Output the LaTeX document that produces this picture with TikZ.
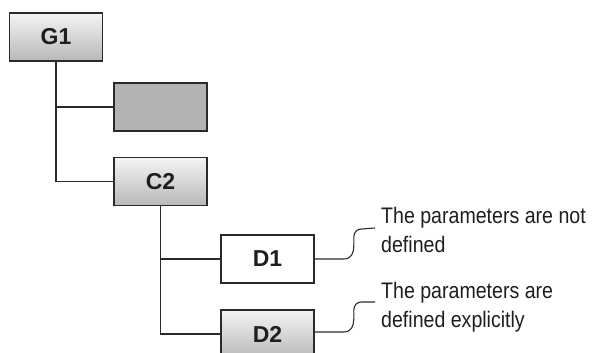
\documentclass[tikz,border=0pt]{standalone}
\usepackage{fontspec}
\newfontfamily\boxfont{Liberation Sans}
\newfontfamily\notefont[FakeStretch=0.87]{Liberation Sans}
\definecolor{edge}{HTML}{2A2A2A}
\definecolor{shadetop}{HTML}{F4F4F4}
\definecolor{shadebot}{HTML}{B8B8B8}
\definecolor{plaingray}{HTML}{B3B3B3}
\definecolor{ink}{HTML}{1E1E1E}
\tikzset{
  unitbox/.style={draw=edge, line width=1.6pt, minimum width=93pt, minimum height=48pt,
    inner sep=0pt, font=\boxfont\bfseries\fontsize{23}{26}\selectfont, text=ink},
  shadedbox/.style={unitbox, top color=shadetop, bottom color=shadebot},
  graybox/.style={unitbox, fill=plaingray},
  whitebox/.style={unitbox, fill=white},
  link/.style={draw=edge, line width=1.4pt},
  note/.style={anchor=north west, inner sep=0pt, align=left, text=ink,
    font=\notefont\fontsize{22.5}{29}\selectfont}
}
\begin{document}
\begin{tikzpicture}[x=1pt, y=-1pt]
  \useasboundingbox (0,0) rectangle (592,353);
  \clip (0,0) rectangle (592,353);

  % tree nodes
  \node[shadedbox] (G1) at (56,37) {G1};
  \node[graybox]   (B)  at (160.5,107) {};
  \node[shadedbox] (C2) at (160.5,181.5) {C2};
  \node[whitebox]  (D1) at (267.5,259) {D1};
  \node[shadedbox] (D2) at (267.5,334) {D2};

  % tree connectors
  \draw[link] (G1.south) |- (B.west);
  \draw[link] (G1.south) |- (C2.west);
  \draw[link] (C2.south) |- (D1.west);
  \draw[link] (C2.south) |- (D2.west);

  % annotations
  \coordinate (n1) at (375,228);
  \coordinate (n2) at (375,302);
  \node[note] (t1) at (381,207) {The parameters are not\\defined};
  \node[note] (t2) at (381,282) {The parameters are\\defined explicitly};

  \draw[link, line width=1.1pt] (D1.east) -- ++(29,0)
    .. controls +(8,0) and +(0,6) .. ++(10,-13) -- ++(0,-8)
    .. controls +(0,-7) and +(-4,0) .. ++(8,-9) -- (n1);
  \draw[link, line width=1.1pt] (D2.east) ++(0,-2) -- ++(29,0)
    .. controls +(8,0) and +(0,6) .. ++(10,-13) -- ++(0,-8)
    .. controls +(0,-7) and +(-4,0) .. ++(8,-9) -- (n2);
\end{tikzpicture}
\end{document}
